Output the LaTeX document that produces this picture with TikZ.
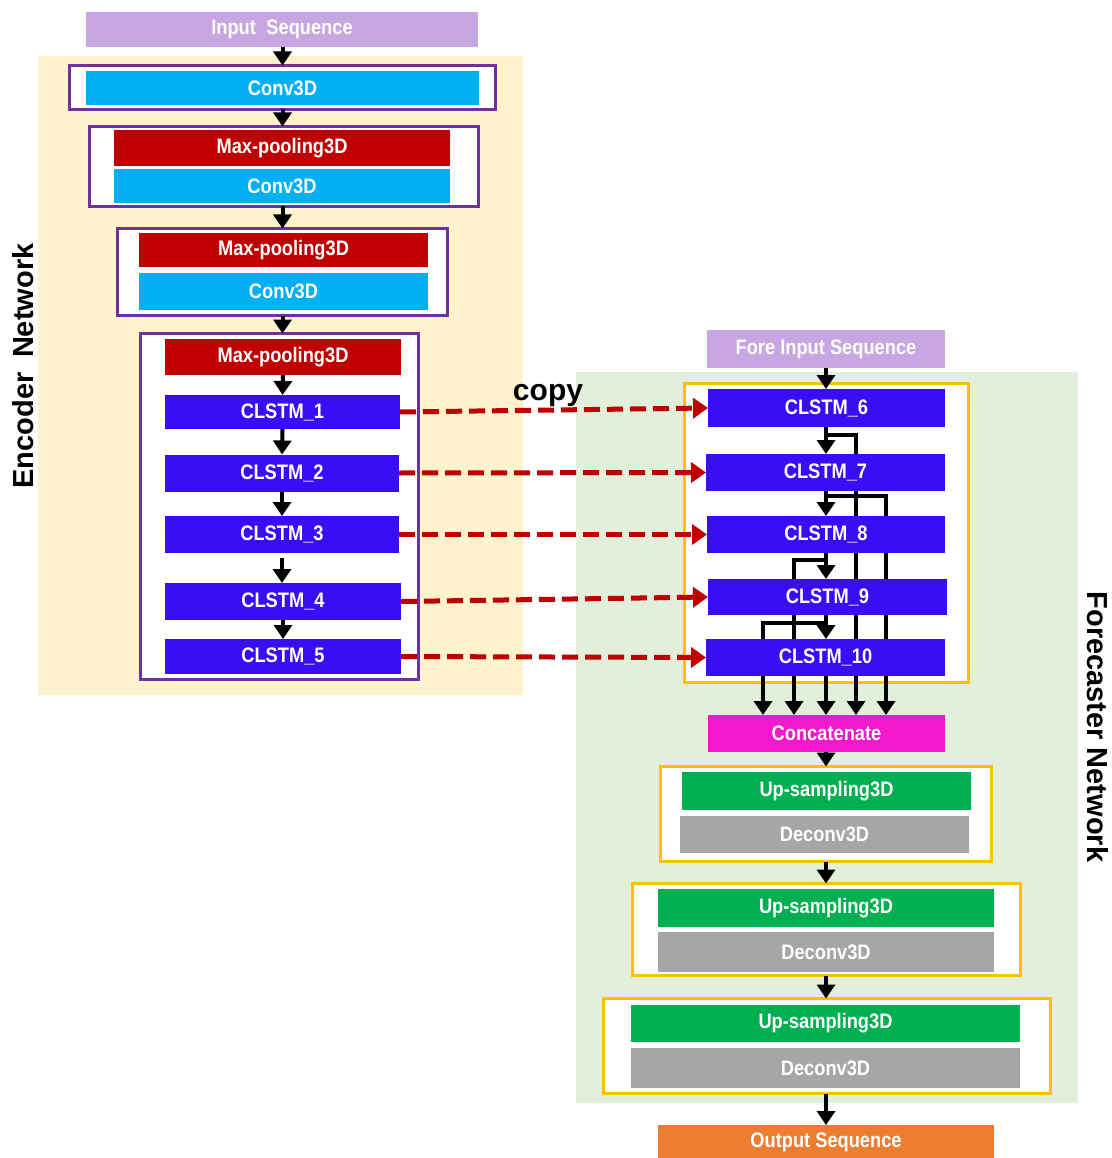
\documentclass[tikz,border=0pt]{standalone}
\usepackage{fontspec}
\setmainfont{Liberation Sans}
\newfontfamily\blkfont{Liberation Sans}[FakeStretch=0.87]
\usetikzlibrary{arrows.meta}

\definecolor{lav}{RGB}{200,166,226}
\definecolor{cyanblk}{RGB}{0,176,240}
\definecolor{dred}{RGB}{192,0,0}
\definecolor{lstm}{RGB}{58,14,244}
\definecolor{magblk}{RGB}{242,24,204}
\definecolor{grnblk}{RGB}{0,176,80}
\definecolor{greyblk}{RGB}{166,166,166}
\definecolor{orgblk}{RGB}{237,125,49}
\definecolor{purp}{RGB}{112,48,160}
\definecolor{ylw}{RGB}{255,192,0}
\definecolor{encfill}{RGB}{255,242,204}
\definecolor{fcfill}{RGB}{226,239,218}

\pgfdeclarelayer{bg}
\pgfdeclarelayer{wires}
\pgfsetlayers{bg,wires,main}

\tikzset{
  blk/.style={rectangle, inner sep=0pt, outer sep=0pt, text=white,
    font=\blkfont\bfseries\fontsize{21}{25}\selectfont},
  area/.style={rectangle, inner sep=0pt, outer sep=0pt, fill=#1},
  frame/.style={rectangle, draw=#1, line width=3pt, fill=white,
    inner sep=0pt, outer sep=0pt},
  flow/.style={draw=black, line width=4pt, line join=miter,
    -{Triangle[width=18pt,length=14pt]}},
  copyline/.style={draw=dred, line width=5pt, dash pattern=on 16pt off 7pt,
    -{Triangle[width=20pt,length=15pt]}},
  biglabel/.style={font=\bfseries\fontsize{29}{34}\selectfont, inner sep=0pt},
}

\begin{document}
\begin{tikzpicture}[x=1pt,y=-1pt]
\useasboundingbox (0,0) rectangle (1111,1158);

% ---------- backgrounds and group frames ----------
\begin{pgfonlayer}{bg}
  \node[area=encfill, minimum width=485pt, minimum height=639pt] (encbg) at (280.5,375.5) {};
  \node[area=fcfill, minimum width=502pt, minimum height=731pt] (fcbg) at (827,737.5) {};
  \node[frame=purp, minimum width=426pt, minimum height=44pt] (g1) at (282.5,87.5) {};
  \node[frame=purp, minimum width=389pt, minimum height=80pt] (g2) at (284,166.5) {};
  \node[frame=purp, minimum width=330pt, minimum height=87pt] (g3) at (282.5,272) {};
  \node[frame=purp, minimum width=278pt, minimum height=346pt] (g4) at (279.5,506.5) {};
  \node[frame=ylw, minimum width=284pt, minimum height=299pt] (h0) at (826.5,533) {};
  \node[frame=ylw, minimum width=331pt, minimum height=95pt] (h1) at (826,814) {};
  \node[frame=ylw, minimum width=388pt, minimum height=92pt] (h2) at (826.5,929.5) {};
  \node[frame=ylw, minimum width=447pt, minimum height=95pt] (h3) at (827,1046) {};
\end{pgfonlayer}

% ---------- encoder blocks ----------
\node[blk, fill=lav, minimum width=392pt, minimum height=35pt] (inseq) at (282,29.5) {Input\hspace{0.5em}Sequence};
\node[blk, fill=cyanblk, minimum width=393pt, minimum height=34pt] (conv1) at (282.5,88) {Conv3D};
\node[blk, fill=dred, minimum width=336pt, minimum height=36pt] (mp1) at (282,148) {Max-pooling3D};
\node[blk, fill=cyanblk, minimum width=336pt, minimum height=34pt] (conv2) at (282,186) {Conv3D};
\node[blk, fill=dred, minimum width=289pt, minimum height=34pt] (mp2) at (283.5,250) {Max-pooling3D};
\node[blk, fill=cyanblk, minimum width=289pt, minimum height=37pt] (conv3) at (283.5,291.5) {Conv3D};
\node[blk, fill=dred, minimum width=236pt, minimum height=36pt] (mp3) at (283,357) {Max-pooling3D};
\node[blk, fill=lstm, minimum width=235pt, minimum height=34pt] (c1) at (282.5,412) {CLSTM\_1};
\node[blk, fill=lstm, minimum width=234pt, minimum height=37pt] (c2) at (282,473) {CLSTM\_2};
\node[blk, fill=lstm, minimum width=234pt, minimum height=37pt] (c3) at (282,534.5) {CLSTM\_3};
\node[blk, fill=lstm, minimum width=236pt, minimum height=37pt] (c4) at (283,601.5) {CLSTM\_4};
\node[blk, fill=lstm, minimum width=236pt, minimum height=35pt] (c5) at (283,656.5) {CLSTM\_5};

% ---------- forecaster blocks ----------
\node[blk, fill=lav, minimum width=238pt, minimum height=38pt] (finp) at (826,349) {Fore Input Sequence};
\node[blk, fill=lstm, minimum width=237pt, minimum height=38pt] (c6) at (826.5,408) {CLSTM\_6};
\node[blk, fill=lstm, minimum width=239pt, minimum height=37pt] (c7) at (825.5,472.5) {CLSTM\_7};
\node[blk, fill=lstm, minimum width=238pt, minimum height=37pt] (c8) at (826,534.5) {CLSTM\_8};
\node[blk, fill=lstm, minimum width=239pt, minimum height=36pt] (c9) at (827.5,597) {CLSTM\_9};
\node[blk, fill=lstm, minimum width=239pt, minimum height=37pt] (c10) at (825.5,657.5) {CLSTM\_10};
\node[blk, fill=magblk, minimum width=237pt, minimum height=37pt] (concat) at (826.5,733.5) {Concatenate};
\node[blk, fill=grnblk, minimum width=289pt, minimum height=38pt] (up1) at (826.5,791) {Up-sampling3D};
\node[blk, fill=greyblk, minimum width=289pt, minimum height=37pt] (de1) at (824.5,834.5) {Deconv3D};
\node[blk, fill=grnblk, minimum width=336pt, minimum height=38pt] (up2) at (826,908) {Up-sampling3D};
\node[blk, fill=greyblk, minimum width=336pt, minimum height=40pt] (de2) at (826,952) {Deconv3D};
\node[blk, fill=grnblk, minimum width=389pt, minimum height=37pt] (up3) at (825.5,1023.5) {Up-sampling3D};
\node[blk, fill=greyblk, minimum width=389pt, minimum height=40pt] (de3) at (825.5,1068) {Deconv3D};
\node[blk, fill=orgblk, minimum width=336pt, minimum height=34pt] (outseq) at (826,1142) {Output Sequence};

% ---------- side labels ----------
\node[font=\bfseries\fontsize{30}{36}\selectfont, anchor=base, inner sep=0pt] (copy) at (548,400) {copy};
\node[biglabel, rotate=90] (enclab) at (23,366) {Encoder\hspace{0.5em}Network};
\node[biglabel, rotate=-90] (fclab) at (1098,727) {Forecaster Network};

% ---------- junction points of the skip wires ----------
\coordinate (j6) at (826,435);  \coordinate (k6) at (856,435);
\coordinate (j7) at (826,496);  \coordinate (k7) at (886,496);
\coordinate (j8) at (826,560);  \coordinate (k8) at (794,560);
\coordinate (j9) at (826,623);  \coordinate (k9) at (763,623);

\begin{pgfonlayer}{wires}
  % encoder flow
  \draw[flow] (inseq.south -| g1.north) -- (g1.north);
  \draw[flow] (g1.south) -- (g1.south |- g2.north);
  \draw[flow] (g2.south -| g1.south) -- (g1.south |- g3.north);
  \draw[flow] (g3.south) -- (g3.south |- g4.north);
  \draw[flow] (mp3.south) -- (c1.north);
  \draw[flow] (c1.south) -- (c2.north);
  \draw[flow] (c2.south) -- (c2.south |- c3.north);
  \draw[flow] ([yshift=-5pt]c3.south) -- (c3.south |- c4.north);
  \draw[flow] (c4.south) -- (c4.south |- c5.north);

  % forecaster main chain
  \draw[flow] (finp.south) -- (finp.south |- c6.north);
  \draw[flow] (c6.south -| j6) -- (j6 |- c7.north);
  \draw[flow] (c7.south -| j6) -- (j6 |- c8.north);
  \draw[flow] (c8.south -| j6) -- (j6 |- c9.north);
  \draw[flow] (c9.south -| j6) -- (j6 |- c10.north);
  \draw[flow] (c10.south -| j6) -- (j6 |- concat.north);

  % skip wires running behind the lower cells into the concatenation
  \draw[flow] (j6) -- (k6) -- (k6 |- concat.north);
  \draw[flow] (j7) -- (k7) -- (k7 |- concat.north);
  \draw[flow] (j8) -- (k8) -- (k8 |- concat.north);
  \draw[flow] (j9) -- (k9) -- (k9 |- concat.north);

  % decoder flow
  \draw[flow] (concat.south -| j6) -- (j6 |- h1.north);
  \draw[flow] (h1.south -| j6) -- (j6 |- h2.north);
  \draw[flow] (h2.south -| j6) -- (j6 |- h3.north);
  \draw[flow] (h3.south -| j6) -- (j6 |- outseq.north);

  % copied states
  \draw[copyline] (c1.east) -- (c6.west);
  \draw[copyline] (c2.east) -- (c7.west);
  \draw[copyline] (c3.east) -- (c8.west);
  \draw[copyline] (c4.east) -- (c9.west);
  \draw[copyline] (c5.east) -- (c10.west);
\end{pgfonlayer}
\end{tikzpicture}
\end{document}
